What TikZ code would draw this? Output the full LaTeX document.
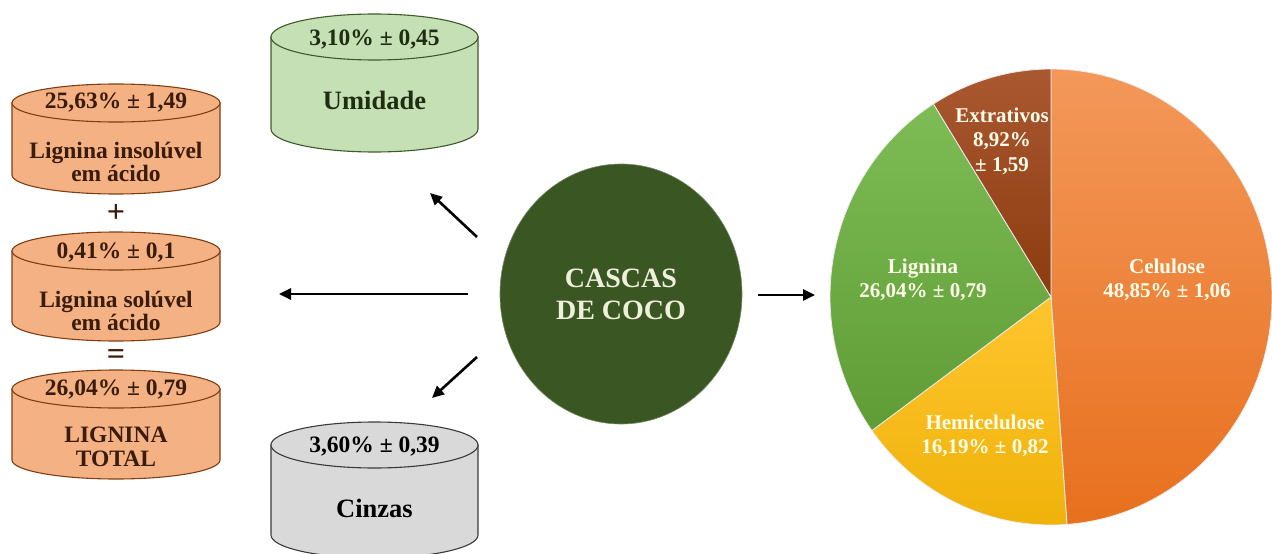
\documentclass[tikz,border=0pt]{standalone}
\usepackage{fontspec}
\setmainfont{Liberation Serif}
\usetikzlibrary{arrows.meta,shapes.geometric,calc}
\definecolor{orfill}{HTML}{F4B183}
\definecolor{ordraw}{HTML}{7F3F14}
\definecolor{ortext}{HTML}{3A1C0A}
\definecolor{gnfill}{HTML}{C5E0B4}
\definecolor{gndraw}{HTML}{3E5A2A}
\definecolor{gntext}{HTML}{1F2D12}
\definecolor{grfill}{HTML}{D9D9D9}
\definecolor{grdraw}{HTML}{3A3A3A}
\definecolor{casca}{HTML}{3A5623}
\definecolor{cascatext}{HTML}{EEF0DA}
\definecolor{celtop}{HTML}{F3985A}
\definecolor{celbot}{HTML}{E8701E}
\definecolor{hemtop}{HTML}{FFC52E}
\definecolor{hembot}{HTML}{EFB20A}
\definecolor{ligtop}{HTML}{7EBC56}
\definecolor{ligbot}{HTML}{5F9C36}
\definecolor{exttop}{HTML}{AA5830}
\definecolor{extbot}{HTML}{8C3A0F}
\newcommand\mycyl[6]{%
  \path[#6] (#1-#4,#2) -- (#1-#4,#3) arc[start angle=180,end angle=360,x radius=#4pt,y radius=#5pt] -- (#1+#4,#2) -- cycle;
  \path[#6] (#1,#2) ellipse [x radius=#4pt, y radius=#5pt];}
\newcommand\myslice[4]{% start, end, top color, bottom color
  \shade[top color=#3,bottom color=#4,draw=white!85!gray,line width=0.8pt]
    (pc) -- ($(pc)+(#1:221pt and 228pt)$) arc[start angle=#1,end angle=#2,x radius=221pt,y radius=228pt] -- cycle;}
\tikzset{
  orcyl/.style={fill=orfill,draw=ordraw,line width=1.1pt},
  gncyl/.style={fill=gnfill,draw=gndraw,line width=1.1pt},
  grcyl/.style={fill=grfill,draw=grdraw,line width=1.1pt},
  valtxt/.style={font=\bfseries\fontsize{23.5}{24}\selectfont,inner sep=0pt},
  signtxt/.style={font=\bfseries\fontsize{32}{32}\selectfont,inner sep=0pt},
  bodytxt/.style={font=\bfseries\fontsize{23.5}{23.5}\selectfont,align=center,inner sep=0pt},
  bigtxt/.style={font=\bfseries\fontsize{26.5}{28}\selectfont,inner sep=0pt},
  pietxt/.style={font=\bfseries\fontsize{21}{24.5}\selectfont,align=center,inner sep=0pt,text=white!92!yellow},
  bigarrow/.style={line width=2.6pt,-{Triangle[length=12pt,width=11pt]}}
}
\begin{document}
\begin{tikzpicture}[x=1pt,y=-1pt]
\useasboundingbox (0,0) rectangle (1272,554);
% left cylinders
\mycyl{116}{103}{175}{104}{19}{orcyl}
\mycyl{116}{251}{322}{104}{19}{orcyl}
\mycyl{116}{389}{460}{104}{19}{orcyl}
\node[valtxt,text=ortext] (v1) at (116,103) {25,63\% ± 1,49};
\node[bodytxt,text=ortext] (b1) at (116,162) {Lignina insolúvel\\em ácido};
\node[signtxt,text=ortext] (plus) at (116,213) {+};
\node[valtxt,text=ortext] (v2) at (116,253) {0,41\% ± 0,1};
\node[bodytxt,text=ortext] (b2) at (116,311) {Lignina solúvel\\em ácido};
\node[signtxt,text=ortext] (eq) at (116,357) {=};
\node[valtxt,text=ortext] (v3) at (116,390) {26,04\% ± 0,79};
\node[bodytxt,text=ortext] (b3) at (116,447) {LIGNINA\\TOTAL};
% top and bottom cylinders
\mycyl{374.5}{37}{129}{103.5}{23}{gncyl}
\mycyl{374.5}{445}{535}{103.5}{23}{grcyl}
\node[valtxt,text=gntext] (vu) at (374.5,40) {3,10\% ± 0,45};
\node[bigtxt,text=gntext] (bu) at (374.5,100) {Umidade};
\node[valtxt,text=black] (vc) at (374.5,446) {3,60\% ± 0,39};
\node[bigtxt,text=black] (bc) at (374.5,508) {Cinzas};
% center
\node[ellipse,fill=casca,draw=casca!70!white,line width=0.6pt,minimum width=242pt,minimum height=260pt,inner sep=0pt,
      text=cascatext,font=\bfseries\fontsize{28}{32}\selectfont,align=center] (casc) at (621,294) {CASCAS\\DE COCO};
% arrows
\coordinate (au1) at (477,237); \coordinate (au2) at (430,193);
\coordinate (al1) at (468,294); \coordinate (al2) at (279,294);
\coordinate (ad1) at (477,357); \coordinate (ad2) at (432,398);
\coordinate (ar1) at (758,295); \coordinate (ar2) at (815,295);
\draw[bigarrow] (au1) -- (au2);
\draw[bigarrow] (al1) -- (al2);
\draw[bigarrow] (ad1) -- (ad2);
\draw[bigarrow] (ar1) -- (ar2);
% pie
\coordinate (pc) at (1051,297);
\myslice{90}{-85.86}{celtop}{celbot}
\myslice{-85.86}{-144.14}{hemtop}{hembot}
\myslice{-144.14}{-237.88}{ligtop}{ligbot}
\myslice{-237.88}{-270}{exttop}{extbot}
\node[pietxt] (pext) at (1002,141) {Extrativos\\8,92\%\\± 1,59};
\node[pietxt] (plig) at (923,280) {Lignina\\26,04\% ± 0,79};
\node[pietxt] (pcel) at (1167,280) {Celulose\\48,85\% ± 1,06};
\node[pietxt] (phem) at (985,436) {Hemicelulose\\16,19\% ± 0,82};
\end{tikzpicture}
\end{document}
